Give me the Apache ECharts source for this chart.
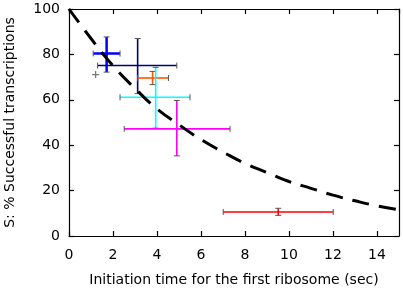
<!DOCTYPE html>
<html>
<head>
<meta charset="utf-8">
<script src="https://cdn.jsdelivr.net/npm/echarts@6/dist/echarts.min.js"></script>
<style>html,body{margin:0;padding:0;background:#fff}#c{width:403px;height:292px}</style>
</head>
<body>
<div id="c"></div>
<script>
// Fitted curve
const curveX = [0, 1, 2, 3, 4, 5, 6, 7, 8, 9, 10, 11, 12, 13, 14, 15];
const curveY = [100, 87, 75, 65, 56, 49, 42.5, 37, 32, 28, 24, 21, 18, 15.5, 13.3, 11.6];

// Measured points: names, centre x/y, x range, y range
const pointNames = ['blue', 'navy', 'orange', 'cyan', 'magenta', 'red'];
const pointX  = [1.71, 3.12, 3.80, 3.94, 4.90, 9.51];
const pointY  = [80.4, 75.1, 69.6, 61.1, 47.2, 10.6];
const xLow    = [1.10, 1.30, 3.12, 2.32, 2.51, 7.01];
const xHigh   = [2.32, 4.90, 4.52, 5.50, 7.32, 12.01];
const yLow    = [72.2, 62.7, 66.7, 47.5, 35.3, 9.1];
const yHigh   = [87.7, 87.0, 72.5, 74.3, 59.7, 12.2];

// small plus marker
const plusX = [1.21];
const plusY = [71.1];

const colors = ['#0000ff', '#000080', '#ff5500', '#00ffff', '#ff00ff', '#ff0000'];
const widths = [2.5, 1.6, 1.6, 1.6, 1.6, 1.6];

const font = 'DejaVu Sans, sans-serif';
const fs = 14;
const chart = echarts.init(document.getElementById('c'), null, {renderer: 'canvas'});

const errSeries = pointNames.map((n, i) => ({
  type: 'custom',
  name: n,
  z: 5,
  data: [[pointX[i], pointY[i], xLow[i], xHigh[i], yLow[i], yHigh[i]]],
  renderItem: function (params, api) {
    const xl = api.coord([api.value(2), api.value(1)]);
    const xh = api.coord([api.value(3), api.value(1)]);
    const yl = api.coord([api.value(0), api.value(4)]);
    const yh = api.coord([api.value(0), api.value(5)]);
    const cap = 3;
    const st = {stroke: colors[i], lineWidth: widths[i]};
    const cs = {stroke: '#555', lineWidth: 1};
    return {
      type: 'group',
      children: [
        {type: 'line', shape: {x1: xl[0], y1: xl[1], x2: xh[0], y2: xh[1]}, style: st},
        {type: 'line', shape: {x1: yl[0], y1: yl[1], x2: yh[0], y2: yh[1]}, style: st},
        {type: 'line', shape: {x1: xl[0], y1: xl[1] - cap, x2: xl[0], y2: xl[1] + cap}, style: cs},
        {type: 'line', shape: {x1: xh[0], y1: xh[1] - cap, x2: xh[0], y2: xh[1] + cap}, style: cs},
        {type: 'line', shape: {x1: yl[0] - cap, y1: yl[1], x2: yl[0] + cap, y2: yl[1]}, style: cs},
        {type: 'line', shape: {x1: yh[0] - cap, y1: yh[1], x2: yh[0] + cap, y2: yh[1]}, style: cs}
      ]
    };
  }
}));

const axisCommon = {
  axisLine: {show: true, onZero: false, lineStyle: {color: '#000', width: 1.2}},
  axisTick: {show: true, inside: true, length: 5, lineStyle: {color: '#000', width: 1.2}},
  splitLine: {show: false}
};

chart.setOption({
  animation: false,
  backgroundColor: '#fff',
  grid: {left: 69, right: 4, top: 9, bottom: 56, containLabel: false, outerBoundsMode: 'none'},
  xAxis: [
    Object.assign({
      type: 'value', min: 0, max: 15, interval: 2,
      name: 'Initiation time for the first ribosome (sec)',
      nameLocation: 'middle', nameGap: 37,
      nameTextStyle: {color: '#000', fontSize: fs, fontFamily: font},
      axisLabel: {color: '#000', fontSize: fs, fontFamily: font, margin: 12, showMaxLabel: false}
    }, axisCommon),
    Object.assign({
      type: 'value', min: 0, max: 15, interval: 2, position: 'top',
      axisLabel: {show: false}
    }, axisCommon)
  ],
  yAxis: [
    Object.assign({
      type: 'value', min: 0, max: 100, interval: 20,
      name: 'S: % Successful transcriptions',
      nameLocation: 'middle', nameGap: 52,
      nameTextStyle: {color: '#000', fontSize: fs, fontFamily: font},
      axisLabel: {color: '#000', fontSize: fs, fontFamily: font, margin: 9}
    }, axisCommon),
    Object.assign({
      type: 'value', min: 0, max: 100, interval: 20, position: 'right',
      axisLabel: {show: false}
    }, axisCommon)
  ],
  series: [
    {
      type: 'line',
      data: curveX.map((x, i) => [x, curveY[i]]),
      smooth: true,
      symbol: 'none',
      z: 10,
      lineStyle: {color: '#000', width: 3, type: [17, 10]}
    },
    ...errSeries,
    {
      type: 'scatter',
      data: plusX.map((x, i) => [x, plusY[i]]),
      symbol: 'path://M-1,0L1,0M0,-1L0,1',
      symbolSize: 7,
      itemStyle: {color: 'none', borderColor: '#555', borderWidth: 1.3},
      z: 6
    }
  ]
});
</script>
</body>
</html>
